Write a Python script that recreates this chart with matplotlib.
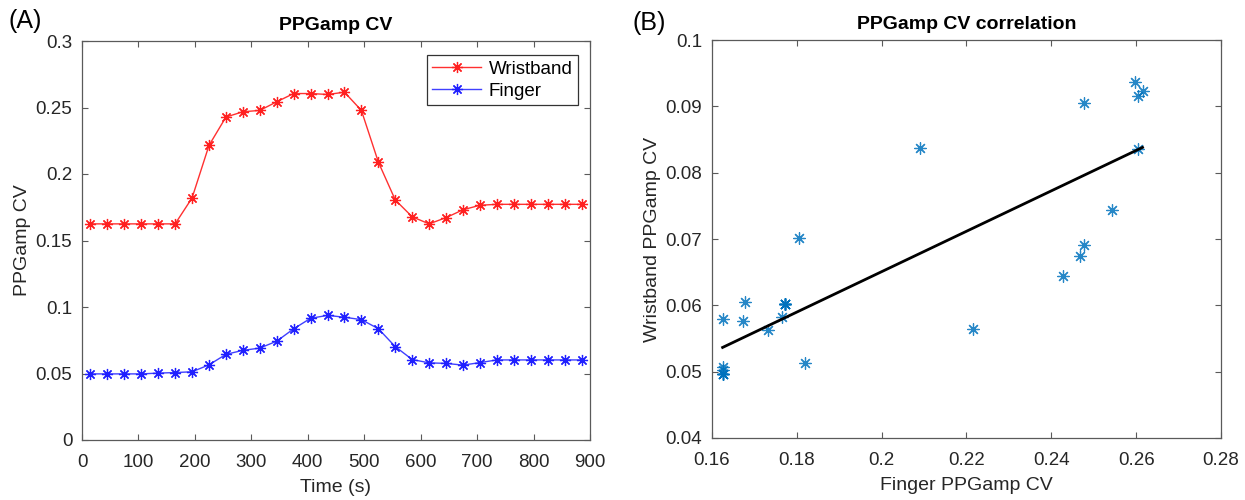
import matplotlib
matplotlib.use("Agg")
import matplotlib.pyplot as plt
import numpy as np
from matplotlib.ticker import FuncFormatter

plt.rcParams['font.family'] = ['Liberation Sans', 'DejaVu Sans']

# --------------------------------------------------------------------------------------------------
# data
# --------------------------------------------------------------------------------------------------
time_s = [15, 45, 75, 105, 135, 165, 195, 225, 255, 285, 315, 345, 375, 405, 435,
          465, 495, 525, 555, 585, 615, 645, 675, 705, 735, 765, 795, 825, 855, 885]

wristband_cv = [0.1625, 0.1625, 0.1625, 0.1625, 0.1625, 0.1625, 0.1820, 0.2215, 0.2428, 0.2468,
                0.2478, 0.2543, 0.2605, 0.2605, 0.2598, 0.2615, 0.2478, 0.2090, 0.1805, 0.1678,
                0.1625, 0.1672, 0.1731, 0.1765, 0.1772, 0.1772, 0.1772, 0.1772, 0.1772, 0.1772]

finger_cv = [0.0497, 0.0497, 0.0497, 0.0497, 0.0503, 0.0507, 0.0513, 0.0565, 0.0644, 0.0674,
             0.0691, 0.0743, 0.0836, 0.0915, 0.0937, 0.0923, 0.0905, 0.0837, 0.0702, 0.0605,
             0.0580, 0.0576, 0.0563, 0.0582, 0.0602, 0.0602, 0.0602, 0.0602, 0.0602, 0.0602]

left_yticks = [0, 0.05, 0.1, 0.15, 0.2, 0.25, 0.3]
left_xticks = [0, 100, 200, 300, 400, 500, 600, 700, 800, 900]
right_xticks = [0.16, 0.18, 0.2, 0.22, 0.24, 0.26, 0.28]
right_yticks = [0.04, 0.05, 0.06, 0.07, 0.08, 0.09, 0.1]

AXCOL = '#5a5a5a'
TXTCOL = '#262626'
fmt = FuncFormatter(lambda v, _: f'{v:g}')


def style_axes(ax):
    for sp in ax.spines.values():
        sp.set_color(AXCOL)
        sp.set_linewidth(0.9)
    ax.tick_params(direction='in', top=True, right=True, length=4, width=0.8,
                   color=AXCOL, labelcolor=TXTCOL, labelsize=13.5)
    ax.tick_params(axis='x', pad=10)
    ax.tick_params(axis='y', pad=7)
    ax.xaxis.set_major_formatter(fmt)
    ax.yaxis.set_major_formatter(fmt)


fig = plt.figure(figsize=(12.45, 5), dpi=100)

# --------------------------------------------------------------------------------------------------
# (A) time course
# --------------------------------------------------------------------------------------------------
ax1 = fig.add_axes([82 / 1245, 60 / 500, 508 / 1245, 399 / 500])
ax1.plot(time_s, wristband_cv, '-', color='#ff3030', lw=1.0, marker=(8, 2, 0),
         ms=8, mew=0.9, mec='#ff2020', label='Wristband')
ax1.plot(time_s, finger_cv, '-', color='#4040ff', lw=1.0, marker=(8, 2, 0),
         ms=8, mew=0.9, mec='#2020ff', label='Finger')
ax1.set_xlim(0, 900)
ax1.set_ylim(0, 0.3)
ax1.set_xticks(left_xticks)
ax1.set_yticks(left_yticks)
style_axes(ax1)
ax1.set_title('PPGamp CV', fontsize=14, fontweight='bold', color='black', pad=8)
ax1.set_xlabel('Time (s)', fontsize=14, color=TXTCOL, labelpad=6)
ax1.set_ylabel('PPGamp CV', fontsize=14, color=TXTCOL, labelpad=3)
leg = ax1.legend(loc='upper right', bbox_to_anchor=(1 - 12 / 508, 1 - 14 / 399),
                 borderaxespad=0, fancybox=False, framealpha=1, edgecolor='#333333',
                 fontsize=13.5, handlelength=2.6, borderpad=0.3, labelspacing=0.25,
                 handletextpad=0.4)
leg.get_frame().set_linewidth(0.9)

# --------------------------------------------------------------------------------------------------
# (B) correlation
# --------------------------------------------------------------------------------------------------
ax2 = fig.add_axes([712 / 1245, 62 / 500, 509 / 1245, 398 / 500])
ax2.scatter(wristband_cv, finger_cv, marker=(8, 2, 0), s=70, color='#0072BD',
            linewidths=0.9, alpha=0.85)
slope, intercept = np.polyfit(wristband_cv, finger_cv, 1)
xfit = np.array([min(wristband_cv), max(wristband_cv)])
ax2.plot(xfit, slope * xfit + intercept, color='black', lw=2)
ax2.set_xlim(0.16, 0.28)
ax2.set_ylim(0.04, 0.1)
ax2.set_xticks(right_xticks)
ax2.set_yticks(right_yticks)
style_axes(ax2)
ax2.set_title('PPGamp CV correlation', fontsize=14, fontweight='bold', color='black', pad=8)
ax2.set_xlabel('Finger PPGamp CV', fontsize=14, color=TXTCOL, labelpad=6)
ax2.set_ylabel('Wristband PPGamp CV', fontsize=14, color=TXTCOL, labelpad=3)

fig.text(8 / 1245, 1 - 21 / 500, '(A)', fontsize=18, va='center', ha='left', color='black')
fig.text(632 / 1245, 1 - 23 / 500, '(B)', fontsize=18, va='center', ha='left', color='black')

fig.savefig('out.png', dpi=100, facecolor='white')
